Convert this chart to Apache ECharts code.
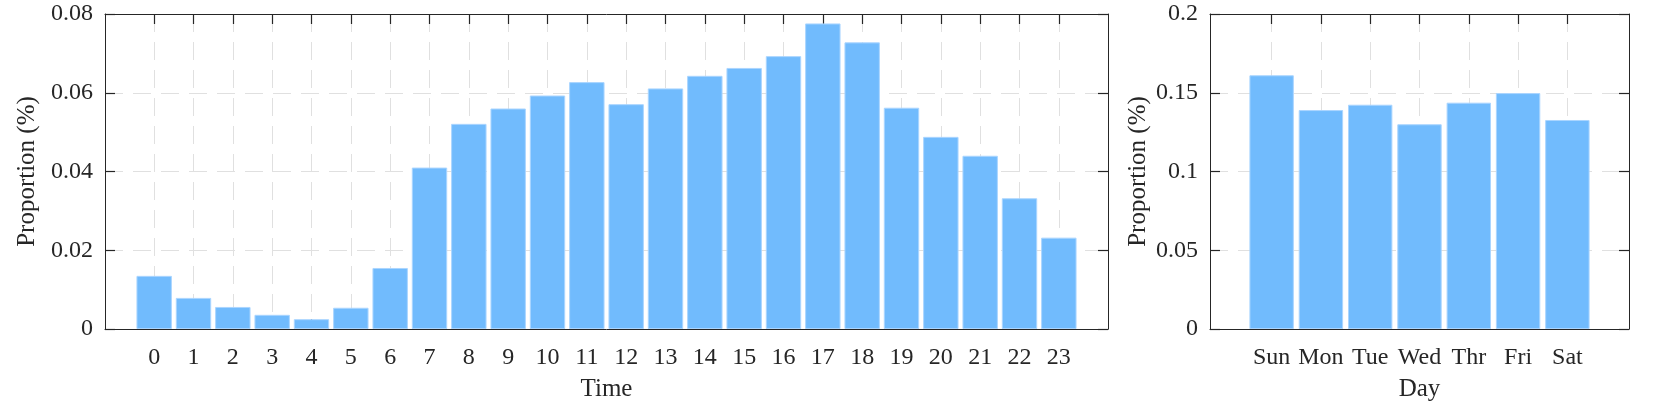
<!DOCTYPE html>
<html><head><meta charset="utf-8">
<script src="https://cdn.jsdelivr.net/npm/echarts@6/dist/echarts.min.js"></script>
<style>html,body{margin:0;padding:0;background:#fff}#c{width:1661px;height:402px}</style>
</head><body><div id="c"></div>
<script>
const hourLabels = ['0','1','2','3','4','5','6','7','8','9','10','11','12','13','14','15','16','17','18','19','20','21','22','23'];
const hourValues = [0.0135, 0.0079, 0.0056, 0.0036, 0.0025, 0.0054, 0.0155, 0.0410, 0.0521, 0.0560, 0.0593, 0.0627, 0.0571, 0.0611, 0.0643, 0.0663, 0.0693, 0.0776, 0.0728, 0.0562, 0.0488, 0.0440, 0.0332, 0.0232];
const dayLabels = ['Sun','Mon','Tue','Wed','Thr','Fri','Sat'];
const dayValues = [0.1611, 0.1390, 0.1424, 0.1300, 0.1437, 0.1498, 0.1327];
const hourYMax = 0.08, hourYStep = 0.02;
const dayYMax = 0.2, dayYStep = 0.05;
const yName = 'Proportion (%)';
const hourName = 'Time';
const dayName = 'Day';

const FONT = "'Liberation Serif', 'Times New Roman', serif";
const TXT = '#262626';
const AX = '#262626';
const GRIDC = '#e0e0e0';
const BAR = '#71bbfd';
const FS = 24;
const NFS = 25;

function xAx(grid, labels, pos, main, name) {
  const idx = labels.map((_, i) => i);
  return {
    type: 'value', gridIndex: grid, position: pos,
    min: -1.25, max: labels.length - 1 + 1.25,
    axisLine: {show: true, onZero: false, lineStyle: {color: AX, width: 1}},
    axisTick: {show: true, inside: true, length: 10, customValues: idx, lineStyle: {color: AX, width: 1.2}},
    axisLabel: {show: main, customValues: idx, formatter: v => labels[Math.round(v)], margin: 17,
      fontFamily: FONT, fontSize: FS, color: TXT},
    splitLine: {show: main, lineStyle: {type: [18, 10], color: GRIDC, width: 1}},
    name: main ? name : '', nameLocation: 'middle', nameGap: 48,
    nameTextStyle: {fontFamily: FONT, fontSize: NFS, color: TXT}
  };
}
function yAx(grid, max, step, pos, main) {
  return {
    type: 'value', gridIndex: grid, position: pos,
    min: 0, max: max, interval: step,
    axisLine: {show: true, onZero: false, lineStyle: {color: AX, width: 1}},
    axisTick: {show: true, inside: true, length: 10, lineStyle: {color: AX, width: 1.2}},
    axisLabel: {show: main, margin: 12, fontFamily: FONT, fontSize: FS, color: TXT},
    splitLine: {show: main, lineStyle: {type: [18, 10], color: GRIDC, width: 1}},
    name: main ? yName : '', nameLocation: 'middle', nameGap: 59,
    nameTextStyle: {fontFamily: FONT, fontSize: NFS, color: TXT}
  };
}

const chart = echarts.init(document.getElementById('c'), null, {renderer: 'canvas'});
chart.setOption({
  animation: false,
  backgroundColor: '#fff',
  grid: [
    {left: 105, top: 14, width: 1003, height: 315, containLabel: false, outerBoundsMode: 'none'},
    {left: 1210, top: 14, width: 419, height: 315, containLabel: false, outerBoundsMode: 'none'}
  ],
  xAxis: [
    xAx(0, hourLabels, 'bottom', true, hourName),
    xAx(0, hourLabels, 'top', false, ''),
    xAx(1, dayLabels, 'bottom', true, dayName),
    xAx(1, dayLabels, 'top', false, '')
  ],
  yAxis: [
    yAx(0, hourYMax, hourYStep, 'left', true),
    yAx(0, hourYMax, hourYStep, 'right', false),
    yAx(1, dayYMax, dayYStep, 'left', true),
    yAx(1, dayYMax, dayYStep, 'right', false)
  ],
  series: [
    {type: 'bar', xAxisIndex: 0, yAxisIndex: 0, barWidth: 35.4,
      itemStyle: {color: BAR, borderColor: '#aad5ff', borderWidth: 1},
      data: hourValues.map((v, i) => [i, v])},
    {type: 'bar', xAxisIndex: 2, yAxisIndex: 2, barWidth: 44.4,
      itemStyle: {color: BAR, borderColor: '#aad5ff', borderWidth: 1},
      data: dayValues.map((v, i) => [i, v])}
  ]
});
</script></body></html>
